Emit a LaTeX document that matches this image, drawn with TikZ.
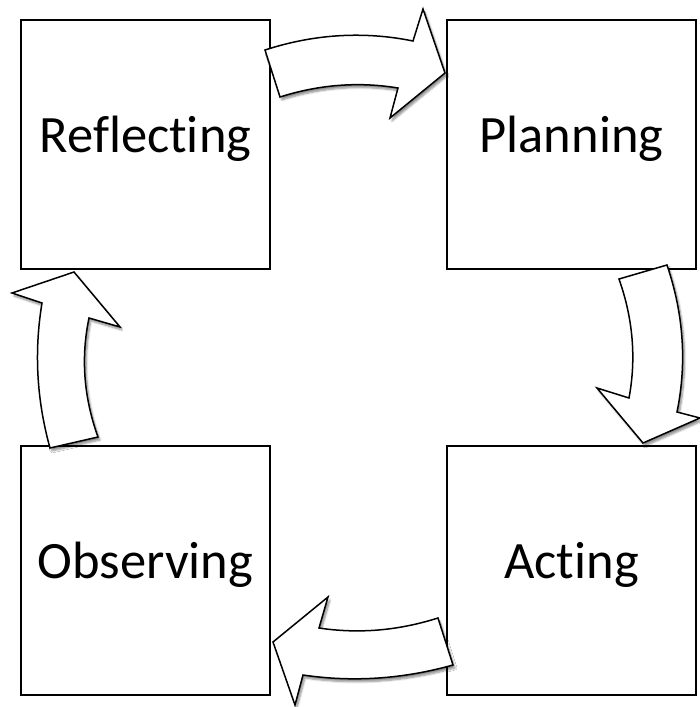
\documentclass[tikz,border=0pt]{standalone}
\usepackage{fontspec}
\setmainfont[Ligatures=NoCommon]{Carlito}
\usetikzlibrary{shadows.blur}
\tikzset{
  stagebox/.style={draw=black, line width=2pt, fill=white, minimum width=249pt, minimum height=249pt, inner sep=0pt},
  stagelabel/.style={anchor=base, inner sep=0pt, font=\fontsize{52.5}{60}\selectfont},
  blockarrow/.style={draw=black, line width=1.5pt, fill=white, line join=miter,
    blur shadow={shadow xshift=2pt, shadow yshift=-3pt, shadow blur steps=6, shadow opacity=45}}
}
\begin{document}
\begin{tikzpicture}[x=1pt,y=-1pt]
\useasboundingbox (0,0) rectangle (700,707);
% boxes
\node[stagebox] (refl) at (145.5,144.5) {};
\node[stagebox] (plan) at (571.5,144.5) {};
\node[stagebox] (obs)  at (145.5,570.5) {};
\node[stagebox] (act)  at (571.5,570.5) {};
\node[stagelabel] (reflt) at ([yshift=-7.5pt]refl.center) {Reflecting};
\node[stagelabel] (plant) at ([yshift=-7.5pt]plan.center) {Planning};
\node[stagelabel] (obst)  at ([yshift=-7.5pt]obs.center) {Observing};
\node[stagelabel] (actt)  at ([yshift=-7.5pt]act.center) {Acting};
% top arrow
\draw[blockarrow] (265,50) .. controls (314,34) and (364,31) .. (413,41)
  -- (423,9) -- (445,73) -- (390,118) -- (398,88)
  .. controls (358.7,81.5) and (319.3,84.5) .. (280,97) -- cycle;
% right arrow
\draw[blockarrow] (619,279) -- (667,265)
  .. controls (683.6,314) and (687,363) .. (677,412)
  -- (700,418) -- (643,443) -- (597,388) -- (629,398)
  .. controls (636.4,358.3) and (633,318.7) .. (619,279) -- cycle;
% bottom arrow
\draw[blockarrow] (438,618) -- (453,665)
  .. controls (403,679) and (353,682.4) .. (303,675)
  -- (295,705) -- (273,642) -- (328,597) -- (319,628)
  .. controls (358.7,634) and (398.3,630.6) .. (438,618) -- cycle;
% left arrow
\draw[blockarrow] (50,448) -- (98,437)
  .. controls (83.7,397.3) and (80.7,357.7) .. (89,318)
  -- (120,327) -- (74,272) -- (12,293) -- (42,303)
  .. controls (34,351.3) and (36.6,399.7) .. (50,448) -- cycle;
\end{tikzpicture}
\end{document}
